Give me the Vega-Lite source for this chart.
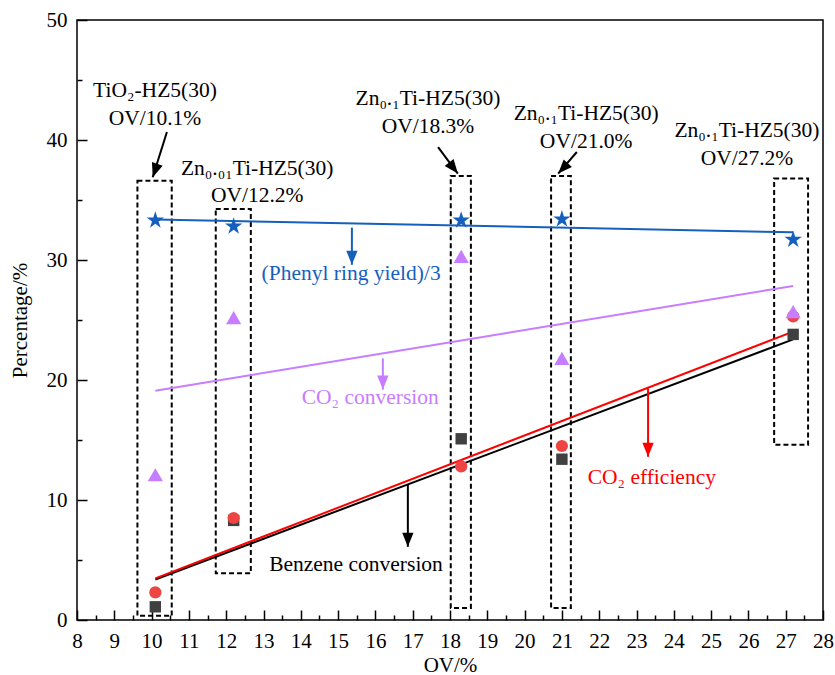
{
  "$schema": "https://vega.github.io/schema/vega-lite/v6.json",
  "width": 746,
  "height": 600,
  "autosize": {"type": "none"},
  "padding": {"left": 77, "top": 20, "right": 12, "bottom": 55},
  "background": "white",
  "config": {
    "font": "Liberation Serif",
    "view": {"stroke": "black", "strokeWidth": 1.5},
    "axis": {"grid": false}
  },
  "datasets": {
    "pts": [
      {"x": 10.1, "y": 1.1, "series": "Benzene conversion"},
      {"x": 12.2, "y": 8.3, "series": "Benzene conversion"},
      {"x": 18.3, "y": 15.1, "series": "Benzene conversion"},
      {"x": 21.0, "y": 13.4, "series": "Benzene conversion"},
      {"x": 27.2, "y": 23.8, "series": "Benzene conversion"},
      {"x": 10.1, "y": 2.3, "series": "CO2 efficiency"},
      {"x": 12.2, "y": 8.5, "series": "CO2 efficiency"},
      {"x": 18.3, "y": 12.8, "series": "CO2 efficiency"},
      {"x": 21.0, "y": 14.5, "series": "CO2 efficiency"},
      {"x": 27.2, "y": 25.3, "series": "CO2 efficiency"},
      {"x": 10.1, "y": 12.1, "series": "CO2 conversion"},
      {"x": 12.2, "y": 25.2, "series": "CO2 conversion"},
      {"x": 18.3, "y": 30.3, "series": "CO2 conversion"},
      {"x": 21.0, "y": 21.8, "series": "CO2 conversion"},
      {"x": 27.2, "y": 25.7, "series": "CO2 conversion"},
      {"x": 10.1, "y": 33.3, "series": "Phenyl ring yield/3"},
      {"x": 12.2, "y": 32.8, "series": "Phenyl ring yield/3"},
      {"x": 18.3, "y": 33.3, "series": "Phenyl ring yield/3"},
      {"x": 21.0, "y": 33.4, "series": "Phenyl ring yield/3"},
      {"x": 27.2, "y": 31.7, "series": "Phenyl ring yield/3"}
    ],
    "boxes": [
      {"x": 9.62, "x2": 10.54, "y": 0.35, "y2": 36.6},
      {"x": 11.72, "x2": 12.66, "y": 3.9, "y2": 34.25},
      {"x": 18.02, "x2": 18.56, "y": 1.0, "y2": 37.0},
      {"x": 20.71, "x2": 21.24, "y": 1.0, "y2": 37.0},
      {"x": 26.69, "x2": 27.6, "y": 14.6, "y2": 36.8}
    ],
    "arrows": [
      {"id": "a1", "series": "Annotation", "x": 10.41, "y": 40.67, "x2": 10.03, "y2": 36.9},
      {"id": "a2", "series": "Annotation", "x": 17.68, "y": 39.4, "x2": 18.21, "y2": 37.2},
      {"id": "a3", "series": "Annotation", "x": 21.4, "y": 39.0, "x2": 20.9, "y2": 37.2},
      {"id": "v1", "series": "Phenyl ring yield/3", "x": 15.37, "y": 32.7, "x2": 15.37, "y2": 29.6},
      {"id": "v2", "series": "CO2 conversion", "x": 16.2, "y": 21.8, "x2": 16.2, "y2": 19.2},
      {"id": "v3", "series": "Benzene conversion", "x": 16.87, "y": 11.25, "x2": 16.87, "y2": 6.1},
      {"id": "v4", "series": "CO2 efficiency", "x": 23.31, "y": 19.3, "x2": 23.31, "y2": 13.6}
    ],
    "labels": [
      {"x": 10.09, "y": 43.6, "text": "TiO₂-HZ5(30)", "series": "Annotation"},
      {"x": 10.09, "y": 41.25, "text": "OV/10.1%", "series": "Annotation"},
      {"x": 12.83, "y": 37.1, "text": "Zn₀.₀₁Ti-HZ5(30)", "series": "Annotation"},
      {"x": 12.83, "y": 34.8, "text": "OV/12.2%", "series": "Annotation"},
      {"x": 17.41, "y": 42.9, "text": "Zn₀.₁Ti-HZ5(30)", "series": "Annotation"},
      {"x": 17.41, "y": 40.6, "text": "OV/18.3%", "series": "Annotation"},
      {"x": 21.65, "y": 41.7, "text": "Zn₀.₁Ti-HZ5(30)", "series": "Annotation"},
      {"x": 21.65, "y": 39.3, "text": "OV/21.0%", "series": "Annotation"},
      {"x": 25.96, "y": 40.25, "text": "Zn₀.₁Ti-HZ5(30)", "series": "Annotation"},
      {"x": 25.96, "y": 37.9, "text": "OV/27.2%", "series": "Annotation"},
      {"x": 15.35, "y": 28.3, "text": "(Phenyl ring yield)/3", "series": "Phenyl ring yield/3"},
      {"x": 15.86, "y": 18.0, "text": "CO₂ conversion", "series": "CO2 conversion"},
      {"x": 15.48, "y": 4.1, "text": "Benzene conversion", "series": "Benzene conversion"},
      {"x": 23.41, "y": 11.3, "text": "CO₂ efficiency", "series": "CO2 efficiency"}
    ]
  },
  "resolve": {"axis": {"x": "independent", "y": "independent"}},
  "layer": [
    {
      "encoding": {
        "x": {"field": "x", "type": "quantitative", "scale": {"domain": [8, 28], "nice": false, "zero": false},
          "axis": {
            "orient": "bottom",
            "values": [8, 9, 10, 11, 12, 13, 14, 15, 16, 17, 18, 19, 20, 21, 22, 23, 24, 25, 26, 27, 28],
            "format": "d",
            "tickSize": 10, "offset": -10, "domain": false,
            "tickColor": "black", "tickWidth": 1.5,
            "labelFont": "Liberation Serif", "labelFontSize": 21, "labelColor": "black", "labelPadding": 10, "labelFlush": false, "labelOverlap": false,
            "title": "OV/%", "titleFont": "Liberation Serif", "titleFontSize": 21, "titleFontWeight": "normal", "titleColor": "black", "titlePadding": 3
          }},
        "y": {"field": "y", "type": "quantitative", "scale": {"domain": [0, 50], "nice": false},
          "axis": {
            "orient": "left",
            "values": [0, 10, 20, 30, 40, 50],
            "format": "d",
            "tickSize": 10, "offset": -10, "domain": false,
            "tickColor": "black", "tickWidth": 1.5,
            "labelFont": "Liberation Serif", "labelFontSize": 21, "labelColor": "black", "labelPadding": 10, "labelFlush": false, "labelOverlap": false,
            "title": "Percentage/%", "titleFont": "Liberation Serif", "titleFontSize": 21, "titleFontWeight": "normal", "titleColor": "black", "titlePadding": 16
          }}
      },
      "layer": [
        {
          "data": {"name": "boxes"},
          "mark": {"type": "rect", "fill": null, "fillOpacity": 0, "stroke": "black", "strokeWidth": 2, "strokeDash": [5, 3]},
          "encoding": {
            "x2": {"field": "x2"},
            "y2": {"field": "y2"}
          }
        },
        {
          "data": {"name": "pts"},
          "transform": [{"regression": "y", "on": "x", "groupby": ["series"]}],
          "mark": {"type": "line", "strokeWidth": 2},
          "encoding": {
            "color": {"field": "series", "type": "nominal", "legend": null,
              "scale": {"domain": ["Benzene conversion", "CO2 efficiency", "CO2 conversion", "Phenyl ring yield/3", "Annotation"],
                        "range": ["#000000", "#ff0000", "#c77dff", "#1560bd", "#000000"]}}
          }
        },
        {
          "data": {"name": "pts"},
          "mark": {"type": "point", "filled": true, "opacity": 1, "strokeWidth": 0},
          "encoding": {
            "fill": {"field": "series", "type": "nominal", "legend": null,
              "scale": {"domain": ["Benzene conversion", "CO2 efficiency", "CO2 conversion", "Phenyl ring yield/3"],
                        "range": ["#404040", "#ef4444", "#c77dff", "#1560bd"]}},
            "shape": {"field": "series", "type": "nominal", "legend": null,
              "scale": {"domain": ["Benzene conversion", "CO2 efficiency", "CO2 conversion", "Phenyl ring yield/3"],
                        "range": ["square", "circle", "triangle-up", "M0,-1L0.2245,-0.309L0.951,-0.309L0.3633,0.118L0.5878,0.809L0,0.382L-0.5878,0.809L-0.3633,0.118L-0.951,-0.309L-0.2245,-0.309Z"]}},
            "size": {"field": "series", "type": "nominal", "legend": null,
              "scale": {"type": "ordinal", "domain": ["Benzene conversion", "CO2 efficiency", "CO2 conversion", "Phenyl ring yield/3"],
                        "range": [130, 150, 230, 330]}}
          }
        },
        {
          "data": {"name": "arrows"},
          "mark": {"type": "rule", "strokeWidth": 2},
          "encoding": {
            "x2": {"field": "x2"},
            "y2": {"field": "y2"},
            "color": {"field": "series", "type": "nominal", "legend": null}
          }
        },
        {
          "data": {"name": "arrows"},
          "transform": [{"filter": "datum.id[0] === 'v'"}],
          "mark": {"type": "point", "filled": true, "opacity": 1, "size": 800, "strokeWidth": 0, "shape": "M0,0L-0.4,-1L0.4,-1Z"},
          "encoding": {
            "x": {"field": "x2", "type": "quantitative"},
            "y": {"field": "y2", "type": "quantitative"},
            "color": {"field": "series", "type": "nominal", "legend": null}
          }
        },
        {
          "data": {"name": "arrows"},
          "transform": [{"filter": "datum.id === 'a1'"}],
          "mark": {"type": "point", "filled": true, "opacity": 1, "size": 800, "strokeWidth": 0, "angle": 19, "color": "black", "shape": "M0,0L-0.4,-1L0.4,-1Z"},
          "encoding": {
            "x": {"field": "x2", "type": "quantitative"},
            "y": {"field": "y2", "type": "quantitative"}
          }
        },
        {
          "data": {"name": "arrows"},
          "transform": [{"filter": "datum.id === 'a2'"}],
          "mark": {"type": "point", "filled": true, "opacity": 1, "size": 800, "strokeWidth": 0, "angle": 322, "color": "black", "shape": "M0,0L-0.4,-1L0.4,-1Z"},
          "encoding": {
            "x": {"field": "x2", "type": "quantitative"},
            "y": {"field": "y2", "type": "quantitative"}
          }
        },
        {
          "data": {"name": "arrows"},
          "transform": [{"filter": "datum.id === 'a3'"}],
          "mark": {"type": "point", "filled": true, "opacity": 1, "size": 800, "strokeWidth": 0, "angle": 43, "color": "black", "shape": "M0,0L-0.4,-1L0.4,-1Z"},
          "encoding": {
            "x": {"field": "x2", "type": "quantitative"},
            "y": {"field": "y2", "type": "quantitative"}
          }
        },
        {
          "data": {"name": "labels"},
          "mark": {"type": "text", "font": "Liberation Serif", "fontSize": 21.5, "align": "center", "baseline": "alphabetic"},
          "encoding": {
            "text": {"field": "text"},
            "color": {"field": "series", "type": "nominal", "legend": null}
          }
        }
      ]
    },
    {
      "data": {"name": "pts"},
      "mark": {"type": "point", "opacity": 0},
      "encoding": {
        "x": {"field": "x", "type": "quantitative",
          "axis": {
            "orient": "bottom",
            "values": [8.5, 9.5, 10.5, 11.5, 12.5, 13.5, 14.5, 15.5, 16.5, 17.5, 18.5, 19.5, 20.5, 21.5, 22.5, 23.5, 24.5, 25.5, 26.5, 27.5],
            "tickSize": 5, "offset": -5, "domain": false, "labels": false, "title": null,
            "tickColor": "black", "tickWidth": 1.5
          }},
        "y": {"field": "y", "type": "quantitative",
          "axis": {
            "orient": "left",
            "values": [5, 15, 25, 35, 45],
            "tickSize": 5, "offset": -5, "domain": false, "labels": false, "title": null,
            "tickColor": "black", "tickWidth": 1.5
          }}
      }
    }
  ]
}
